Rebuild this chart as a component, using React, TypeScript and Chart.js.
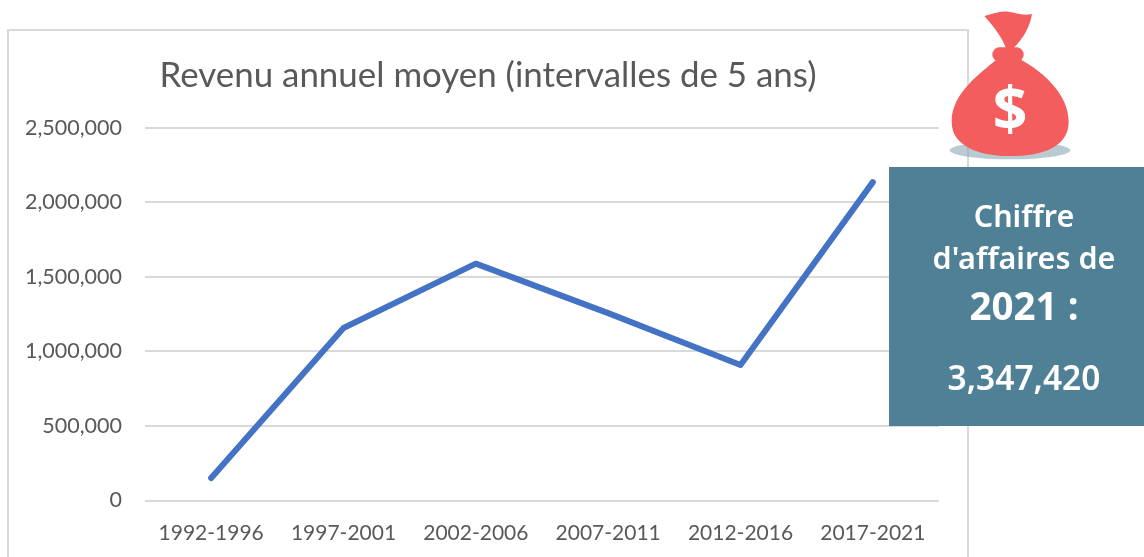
import React, { useEffect, useRef } from "react";
import { Chart, registerables } from "chart.js";

Chart.register(...registerables);

const categories = ["1992-1996", "1997-2001", "2002-2006", "2007-2011", "2012-2016", "2017-2021"];
const revenue = [151000, 1157000, 1589000, 1257000, 909000, 2136000];
const yMax = 2500000;
const yStep = 500000;
const titleText = "Revenu annuel moyen (intervalles de 5 ans)";
const panelLines = ["Chiffre", "d'affaires de"];
const panelYear = "2021 :";
const panelValue = "3,347,420";

const labelFont = "Lato, 'Open Sans', sans-serif";
const panelFont = "'Noto Sans', 'Open Sans', sans-serif";

const widenLabelArea = {
  id: "widenLabelArea",
  afterLayout(chart: any) {
    chart.scales.y.left = 0;
  },
};

export default function App() {
  const ref = useRef<HTMLCanvasElement | null>(null);
  useEffect(() => {
    const chart = new Chart(ref.current!, {
      type: "line",
      plugins: [widenLabelArea],
      data: {
        labels: categories,
        datasets: [
          {
            data: revenue,
            borderColor: "#4472C4",
            borderWidth: 6,
            borderCapStyle: "round",
            borderJoinStyle: "round",
            pointRadius: 0,
            tension: 0,
            fill: false,
          },
        ],
      },
      options: {
        animation: false,
        responsive: false,
        layout: { padding: { left: 37, right: 37, top: 0, bottom: 0 } },
        plugins: {
          legend: { display: false },
          tooltip: { enabled: false },
          title: {
            display: true,
            text: titleText,
            color: "#595959",
            font: { family: labelFont, size: 34.9, weight: "normal" },
            padding: { top: 55, bottom: 31 },
          },
        },
        scales: {
          x: {
            offset: true,
            grid: { display: false },
            border: { display: false },
            afterFit: (s: any) => {
              s.height = 56.5;
            },
            ticks: {
              color: "#595959",
              font: { family: labelFont, size: 21 },
              padding: 12,
              maxRotation: 0,
              autoSkip: false,
            },
          },
          y: {
            min: 0,
            max: yMax,
            afterFit: (s: any) => {
              s.width = 108;
            },
            border: { display: false },
            grid: { color: "#d9d9d9", lineWidth: 2, drawTicks: false },
            ticks: {
              stepSize: yStep,
              color: "#595959",
              font: { family: labelFont, size: 21.5 },
              padding: 23,
              callback: (v: any) => Number(v).toLocaleString("en-US"),
            },
          },
        },
      },
    } as any);
    return () => chart.destroy();
  }, []);

  return (
    <div style={{ position: "absolute", left: 0, top: 0, width: 1144, height: 557, overflow: "hidden", background: "#fff" }}>
      <div
        style={{
          position: "absolute",
          left: 7,
          top: 29,
          width: 958,
          height: 560,
          border: "2px solid #d9d9d9",
          boxSizing: "content-box",
        }}
      />
      <canvas ref={ref} width={976} height={557} style={{ position: "absolute", left: 0, top: 0 }} />
      <svg
        viewBox="0 0 792 540"
        width={264}
        height={180}
        style={{ position: "absolute", left: 880, top: 0 }}
      >
        <ellipse cx={390} cy={451} rx={181} ry={27} fill="#8aa9b1" fillOpacity={0.6} />
        <path
          d="M313,48 C340,40 360,32 385,35 C410,38 425,48 456,42 C450,80 430,115 400,145 L378,145 C365,110 345,85 313,48 Z"
          fill="#f45d5d"
        />
        <rect x={337} y={142} width={94} height={43} rx={21} fill="#f45d5d" />
        <path
          d="M355,175 C300,220 215,280 215,365 C215,440 300,468 390,468 C480,468 566,445 566,365 C566,290 500,220 415,175 Z"
          fill="#f45d5d"
        />
        <text
          x={390}
          y={390}
          textAnchor="middle"
          fill="#fff"
          style={{ font: "700 182px 'Open Sans', sans-serif" }}
        >
          $
        </text>
      </svg>
      <div
        style={{
          position: "absolute",
          left: 889,
          top: 167,
          width: 255,
          height: 259,
          background: "#508095",
          color: "#fff",
          fontFamily: panelFont,
          textAlign: "center",
        }}
      >
        {panelLines.map((t, i) => (
          <div
            key={t}
            style={{ position: "absolute", left: 0, width: 270, top: 27 + i * 42, fontSize: 30.5, lineHeight: "42px", fontWeight: 600 }}
          >
            {t}
          </div>
        ))}
        <div style={{ position: "absolute", left: 0, width: 270, top: 115, fontSize: 38.5, lineHeight: "46px", fontWeight: 700 }}>
          {panelYear}
        </div>
        <div style={{ position: "absolute", left: 0, width: 270, top: 188, fontSize: 33.5, lineHeight: "44px", fontWeight: 600 }}>
          {panelValue}
        </div>
      </div>
    </div>
  );
}
